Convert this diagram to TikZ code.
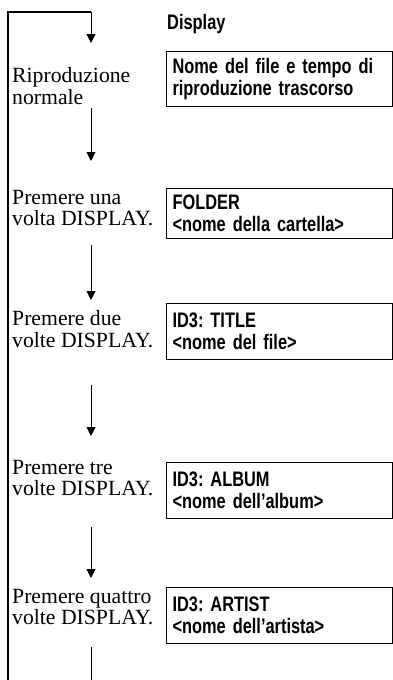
\documentclass[tikz,border=0pt]{standalone}
\usepackage{fontspec}
\setmainfont{Liberation Serif}
\newfontfamily\boxfont[FakeStretch=0.78,WordSpace=0.8]{Liberation Sans}
\frenchspacing
\usetikzlibrary{arrows.meta}
\tikzset{
  lefttext/.style={anchor=west, align=left, inner sep=0pt,
    font=\fontsize{21.7}{21.5}\selectfont},
  dispbox/.style={draw, line width=1.1pt, anchor=north west,
    minimum width=226pt, text width=214pt, inner xsep=6pt, inner ysep=0pt,
    align=left, font=\boxfont\bfseries\fontsize{21}{22}\selectfont},
  header/.style={anchor=west, inner sep=0pt, font=\boxfont\bfseries\fontsize{21}{22}\selectfont},
  flow/.style={line width=1pt, -{Triangle[width=9pt,length=9pt]}},
  flowend/.style={line width=1pt},
  loop/.style={line width=1.5pt}
}
\begin{document}
\begin{tikzpicture}[x=1pt,y=-1pt]
\useasboundingbox (0,0) rectangle (393,680);

\node[header] (hd) at (167,24) {Display};

% left texts
\node[lefttext] (l1) at (12,86) {Riproduzione\\normale};
\node[lefttext] (l2) at (12,208) {Premere una\\volta DISPLAY.};
\node[lefttext] (l3) at (12,329) {Premere due\\volte DISPLAY.};
\node[lefttext] (l4) at (12,478) {Premere tre\\volte DISPLAY.};
\node[lefttext] (l5) at (12,607) {Premere quattro\\volte DISPLAY.};

% display boxes
\node[dispbox, minimum height=55pt] (b1) at (166,51) {Nome del file e tempo di\\riproduzione trascorso};
\node[dispbox, minimum height=50pt] (b2) at (166,188) {FOLDER\\\textless nome della cartella\textgreater};
\node[dispbox, minimum height=56pt] (b3) at (166,303) {ID3: TITLE\\\textless nome del file\textgreater};
\node[dispbox, minimum height=56pt] (b4) at (166,462) {ID3: ALBUM\\\textless nome dell’album\textgreater};
\node[dispbox, minimum height=56pt] (b5) at (166,587) {ID3: ARTIST\\\textless nome dell’artista\textgreater};

% connector points
\coordinate (lb) at (8,680);
\coordinate (lt) at (8,12);
\coordinate (rt) at (91,12);
\coordinate (a1) at (91,43);
\coordinate (s2) at (91,108);
\coordinate (a2) at (91,161);
\coordinate (s3) at (91,245);
\coordinate (a3) at (91,300);
\coordinate (s4) at (91,385);
\coordinate (a4) at (91,436);
\coordinate (s5) at (91,527);
\coordinate (a5) at (91,578);
\coordinate (s6) at (91,647);
\coordinate (e6) at (91,680);

\draw[loop] (lb) -- (lt) -- (rt);
\draw[flow] (rt) -- (a1);
\draw[flow] (s2) -- (a2);
\draw[flow] (s3) -- (a3);
\draw[flow] (s4) -- (a4);
\draw[flow] (s5) -- (a5);
\draw[flowend] (s6) -- (e6);
\end{tikzpicture}
\end{document}
